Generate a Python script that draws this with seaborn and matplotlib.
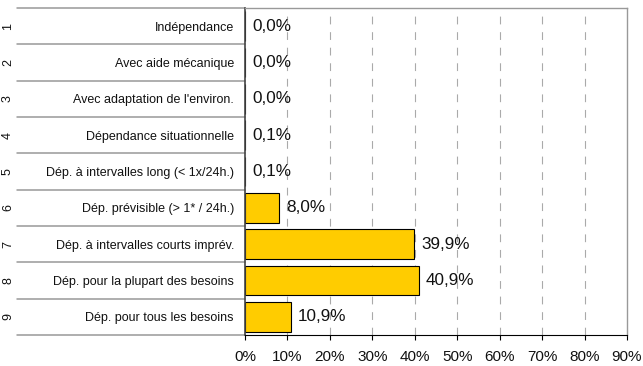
import pandas as pd
import matplotlib.pyplot as plt
import matplotlib.transforms as mtransforms
import seaborn as sns

# Data
numbers = ['1', '2', '3', '4', '5', '6', '7', '8', '9']
categories = ['Indépendance', 'Avec aide mécanique', "Avec adaptation de l'environ.",
              'Dépendance situationnelle', 'Dép. à intervalles long (< 1x/24h.)',
              'Dép. prévisible (> 1* / 24h.)', 'Dép. à intervalles courts imprév.',
              'Dép. pour la plupart des besoins', 'Dép. pour tous les besoins']
values = [0.0, 0.0, 0.0, 0.1, 0.1, 8.0, 39.9, 40.9, 10.9]
xticks = [0, 10, 20, 30, 40, 50, 60, 70, 80, 90]

df = pd.DataFrame({'cat': categories, 'val': values})

sns.set_style("white")
plt.rcParams['font.family'] = ['Liberation Sans', 'DejaVu Sans']

fig = plt.figure(figsize=(6.43, 3.66), dpi=100)
ax = fig.add_axes([245 / 643, 1 - 335 / 366, 382 / 643, 327 / 366])

sns.barplot(data=df, x='val', y='cat', orient='h', color='#FFCC00',
            edgecolor='black', linewidth=0.8, width=0.81, saturation=1, ax=ax)

ax.set_xlim(0, 90)
ax.set_ylim(8.5, -0.5)
ax.set_xticks(xticks)
ax.set_xticklabels([f'{t}%' for t in xticks], fontsize=11, color='#111111')
ax.tick_params(axis='x', length=3.6, width=0.8, color='black', pad=7, direction='out', bottom=True)
ax.set_xlabel('')
ax.set_ylabel('')

# category labels and row numbers as a small table on the left
ax.set_yticks(range(len(categories)))
ax.set_yticklabels(categories, fontsize=9, color='#111111')
ax.tick_params(axis='y', length=0, pad=8)
trans = mtransforms.blended_transform_factory(ax.transAxes, ax.transData)
x0 = (17 - 245) / 382
for i, n in enumerate(numbers):
    ax.text((8 - 245) / 382, i, n, rotation=90, fontsize=9, ha='center', va='center',
            transform=trans, color='#111111')
for b in range(len(categories) + 1):
    ax.plot([x0, 0], [b - 0.5, b - 0.5], color='#999999', lw=1.1,
            transform=trans, clip_on=False)

# dashed vertical gridlines
for t in xticks[1:-1]:
    ax.axvline(t, color='#aaaaaa', lw=0.8, ls=(0, (7, 7)), zorder=0)

for side in ['top', 'right']:
    ax.spines[side].set_color('#999999')
    ax.spines[side].set_linewidth(1)
ax.spines['left'].set_color('#444444')
ax.spines['left'].set_linewidth(1.2)
ax.spines['bottom'].set_color('black')
ax.spines['bottom'].set_linewidth(0.8)

# value labels
for i, v in enumerate(values):
    ax.annotate(f'{v:.1f}%'.replace('.', ','), (v, i), xytext=(5, 0),
                textcoords='offset points', va='center', ha='left',
                fontsize=12.3, color='#111111')

plt.savefig('out.png', dpi=100)
